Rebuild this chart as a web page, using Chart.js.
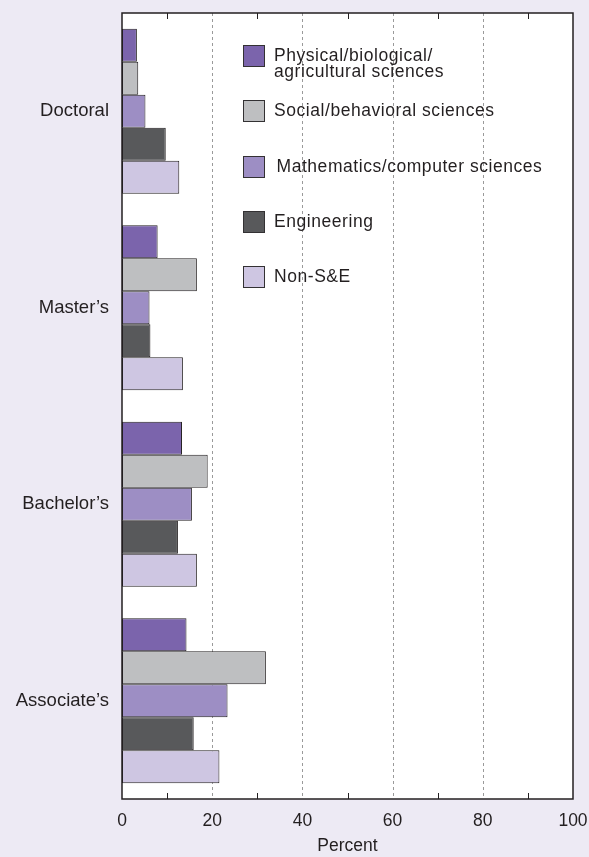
<!DOCTYPE html>
<html>
<head>
<meta charset="utf-8">
<script src="https://cdn.jsdelivr.net/npm/chart.js@4/dist/chart.umd.min.js"></script>
<style>
  html, body { margin: 0; padding: 0; background: #edeaf4; }
  #wrap { position: relative; width: 589px; height: 857px; }
  #legend { position: absolute; left: 0; top: 0; width: 589px; height: 0; }
  .lg-box { position: absolute; width: 20px; height: 20px; border: 1px solid #333133; box-sizing: content-box; }
  .lg-text { position: absolute; font-family: "Liberation Sans", Arial, Helvetica, sans-serif; font-size: 17.5px; letter-spacing: 0.55px; line-height: 16px; color: #231f20; white-space: pre; }
</style>
</head>
<body>
<div id="wrap">
  <canvas id="c" width="589" height="857"></canvas>
  <div id="legend"></div>
</div>
<script>
const categories = ["Doctoral", "Master\u2019s", "Bachelor\u2019s", "Associate\u2019s"];
const seriesNames = ["Physical/biological/\nagricultural sciences", "Social/behavioral sciences", "Mathematics/computer sciences", "Engineering", "Non-S&E"];
const physical = [3.3, 7.9, 13.3, 14.3];
const social = [3.6, 16.6, 19.0, 31.9];
const mathematics = [5.2, 6.1, 15.5, 23.4];
const engineering = [9.7, 6.3, 12.4, 15.9];
const nonSE = [12.7, 13.5, 16.6, 21.6];
const xTicks = [0, 20, 40, 60, 80, 100];
const gridValues = [20, 40, 60, 80];
const minorTicks = [10, 30, 50, 70, 90];

const colors = ["#7b64ac", "#bebfc1", "#9d8ec4", "#58595b", "#cec6e2"];
const seriesValues = [physical, social, mathematics, engineering, nonSE];
const FONT = '"Liberation Sans", Arial, Helvetica, sans-serif';
const INK = '#231f20';

const framePlugin = {
  id: 'frame',
  beforeDraw(chart) {
    const {ctx, chartArea: a} = chart;
    ctx.save();
    ctx.fillStyle = '#ffffff';
    ctx.fillRect(a.left, a.top, a.right - a.left, a.bottom - a.top);
    ctx.restore();
  },
  beforeDatasetsDraw(chart) {
    const {ctx, chartArea: a} = chart;
    const xs = chart.scales.x;
    ctx.save();
    ctx.strokeStyle = '#9a9a9a';
    ctx.lineWidth = 1;
    ctx.setLineDash([3, 3]);
    gridValues.forEach(v => {
      const px = Math.round(xs.getPixelForValue(v)) + 0.5;
      ctx.beginPath();
      ctx.moveTo(px, a.top);
      ctx.lineTo(px, a.bottom);
      ctx.stroke();
    });
    ctx.restore();
  },
  afterDraw(chart) {
    const {ctx, chartArea: a} = chart;
    const xs = chart.scales.x;
    ctx.save();
    ctx.strokeStyle = INK;
    ctx.lineWidth = 1.5;
    ctx.strokeRect(a.left, a.top, a.right - a.left, a.bottom - a.top);
    ctx.lineWidth = 1;
    minorTicks.forEach(v => {
      const px = Math.round(xs.getPixelForValue(v)) + 0.5;
      ctx.beginPath();
      ctx.moveTo(px, a.bottom);
      ctx.lineTo(px, a.bottom - 6);
      ctx.moveTo(px, a.top);
      ctx.lineTo(px, a.top + 6);
      ctx.stroke();
    });
    ctx.restore();
  }
};

const chart = new Chart(document.getElementById('c'), {
  type: 'bar',
  data: {
    labels: categories,
    datasets: seriesNames.map((name, i) => ({
      label: name,
      data: seriesValues[i],
      backgroundColor: colors[i],
      borderColor: INK,
      borderWidth: 1,
      borderSkipped: false,
      categoryPercentage: 0.84,
      barPercentage: 1.0
    }))
  },
  options: {
    indexAxis: 'y',
    responsive: false,
    animation: false,
    layout: { padding: { top: 13, right: 16, left: 0, bottom: 0 } },
    plugins: { legend: { display: false }, tooltip: { enabled: false } },
    scales: {
      x: {
        type: 'linear',
        min: 0, max: 100,
        afterBuildTicks(scale) { scale.ticks = xTicks.map(v => ({ value: v })); },
        afterFit(scale) { scale.height = 58; scale.paddingLeft = 0; scale.paddingRight = 0; },
        grid: { display: false, drawTicks: false },
        border: { display: false },
        ticks: { font: { family: FONT, size: 17.5 }, color: INK, padding: 12 },
        title: { display: true, text: 'Percent', font: { family: FONT, size: 17.5 }, color: INK, padding: { top: 4, bottom: 0 } }
      },
      y: {
        type: 'category',
        afterFit(scale) { scale.width = 122; scale.paddingTop = 0; scale.paddingBottom = 0; },
        grid: { display: false, drawTicks: false },
        border: { display: false },
        ticks: { font: { family: FONT, size: 18.5 }, color: INK, padding: 13 }
      }
    }
  },
  plugins: [framePlugin]
});

// HTML legend built from the dataset labels/colours
const legend = document.getElementById('legend');
chart.data.datasets.forEach((ds, i) => {
  const top = 45 + 55.3 * i;
  const box = document.createElement('div');
  box.className = 'lg-box';
  box.style.left = '243px';
  box.style.top = top + 'px';
  box.style.background = ds.backgroundColor;
  legend.appendChild(box);
  const t = document.createElement('div');
  t.className = 'lg-text';
  t.style.left = (i === 2 ? 276.5 : 274) + 'px';
  t.style.top = (top + 16 - 14) + 'px';
  t.textContent = ds.label;
  legend.appendChild(t);
});
</script>
</body>
</html>
